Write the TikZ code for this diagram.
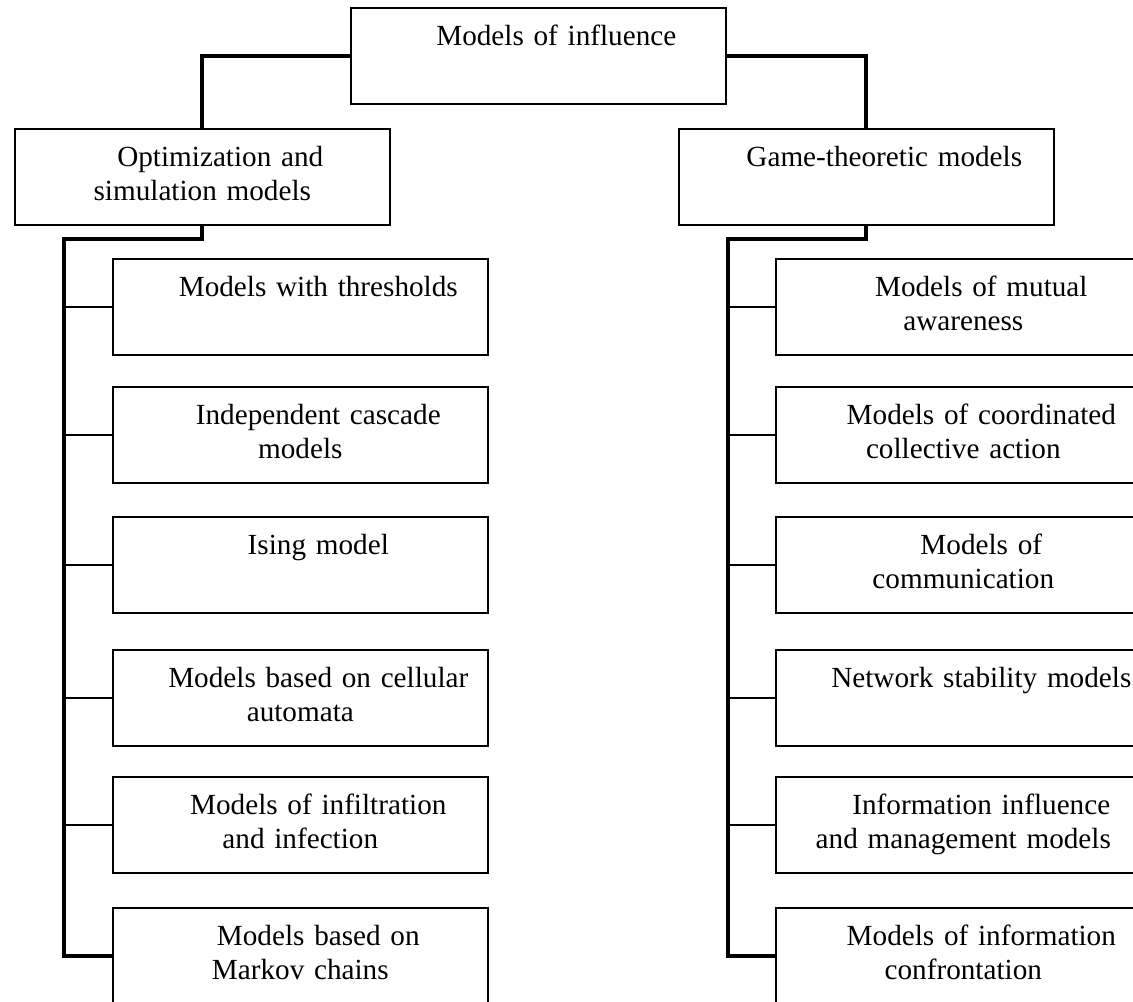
\documentclass[tikz,border=0pt]{standalone}
\usepackage{fontspec}
\setmainfont{Liberation Serif}
\tikzset{
  box/.style={draw, line width=0.8pt, inner sep=0pt, anchor=north west,
    text width=187.5pt, align=center, text height=19pt, text depth=29pt,
    font=\fontsize{14.6}{17}\selectfont},
  trunk/.style={line width=2pt},
  twig/.style={line width=0.7pt}
}
\newcommand{\ind}{\hspace*{18pt}}

\begin{document}
\begin{tikzpicture}[x=0.5pt, y=-0.5pt]
  \useasboundingbox (0,0) rectangle (1133,1001);
  \clip (0,0) rectangle (1133,1001);
  \node[box] (infl) at (350,7) {\ind Models of influence};
  \node[box] (optim) at (14,128) {\ind Optimization and\\simulation models};
  \node[box] (game) at (678,128) {\ind Game-theoretic models};
  \foreach \n/\y/\t in {1/258/{\ind Models with thresholds},
      2/386/{\ind Independent cascade\\models},
      3/516/{\ind Ising model},
      4/649/{\ind Models based on cellular\\automata},
      5/776/{\ind Models of infiltration\\and infection},
      6/907/{\ind Models based on\\Markov chains}}
    \node[box] (L\n) at (112,\y) {\t};
  \foreach \n/\y/\t in {1/258/{\ind Models of mutual\\awareness},
      2/386/{\ind Models of coordinated\\collective action},
      3/516/{\ind Models of\\communication},
      4/649/{\ind Network stability models},
      5/776/{\ind Information influence\\and management models},
      6/907/{\ind Models of information\\confrontation}}
    \node[box] (R\n) at (775,\y) {\t};
  \coordinate (lknee) at (64,239);
  \coordinate (rknee) at (728,239);
  \draw[trunk] (infl.west) -| (optim.north);
  \draw[trunk] (infl.east) -| (game.north);
  \draw[trunk] (optim.south) |- (lknee) |- (L6.west);
  \draw[trunk] (game.south) |- (rknee) |- (R6.west);
  \foreach \n in {1,...,5}{
    \draw[twig] (L\n.west) -- (L\n.west -| lknee);
    \draw[twig] (R\n.west) -- (R\n.west -| rknee);}
\end{tikzpicture}
\end{document}
